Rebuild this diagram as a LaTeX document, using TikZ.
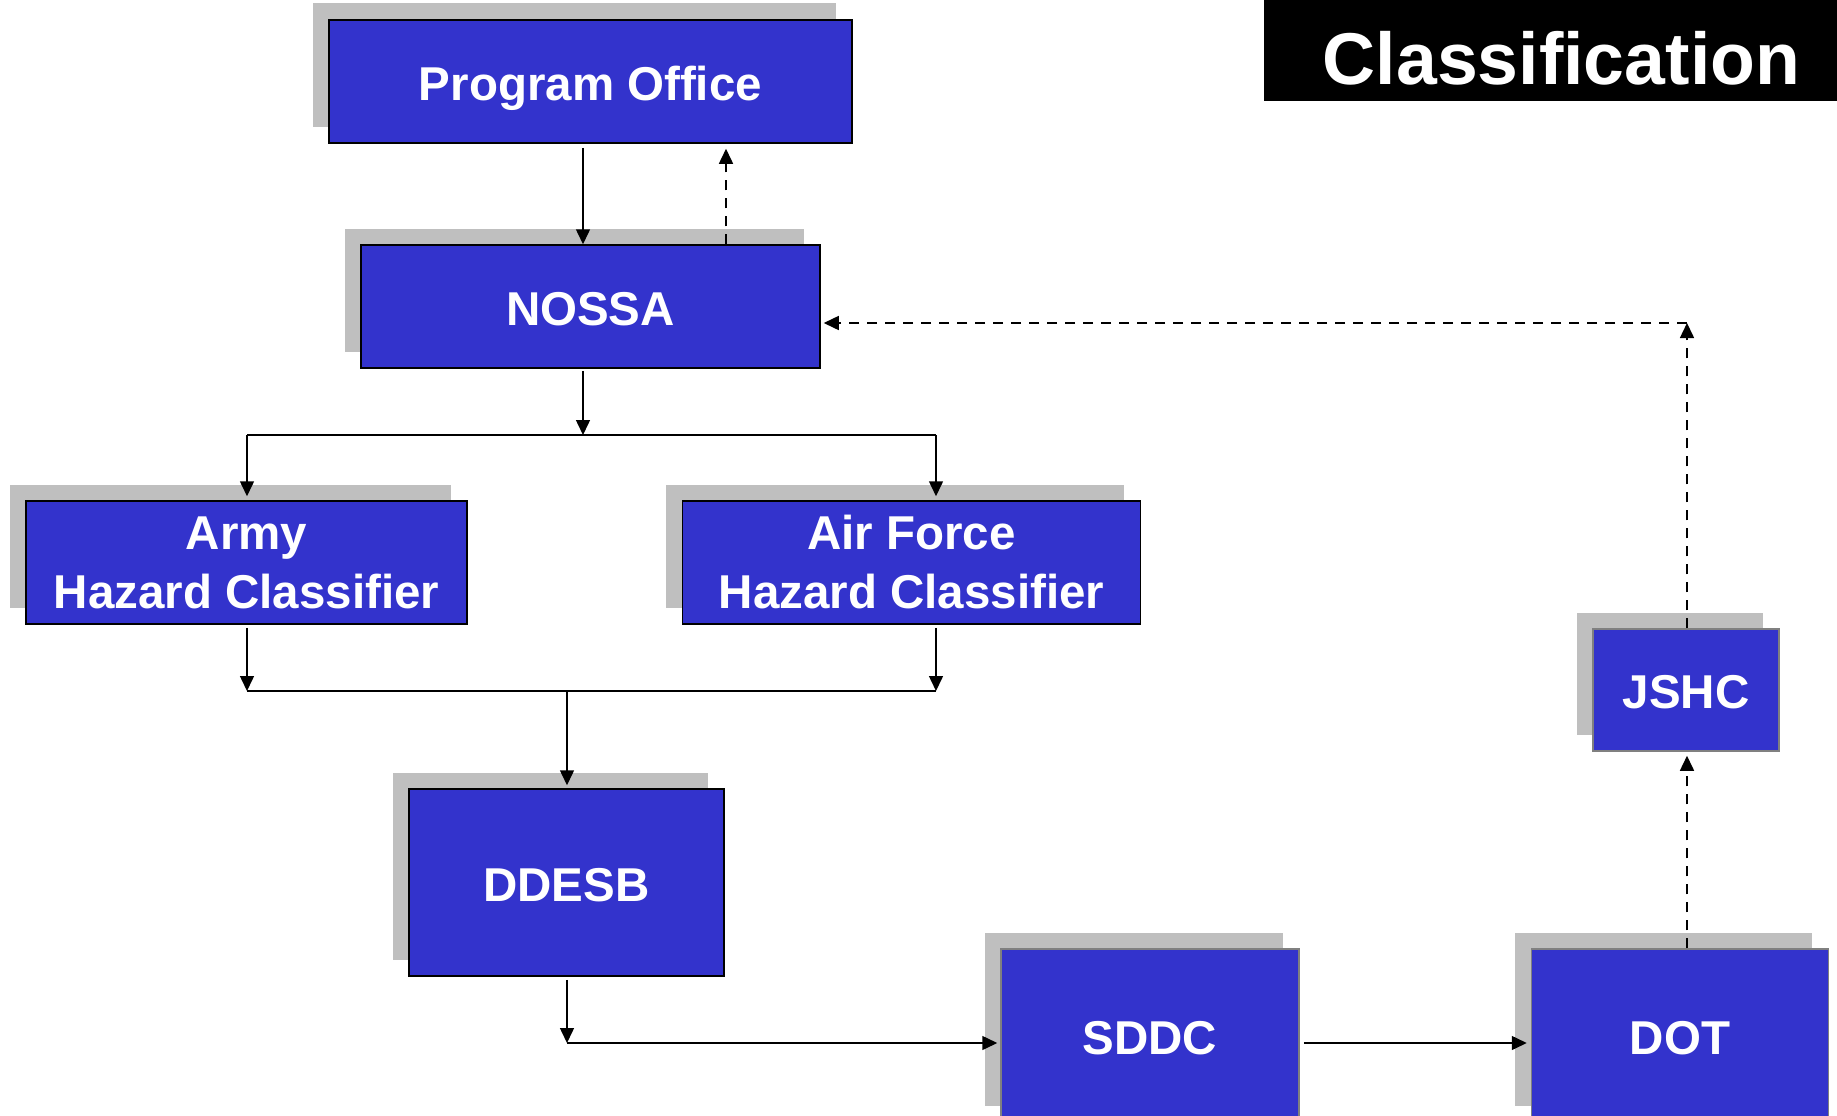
\documentclass[tikz,border=0pt]{standalone}
\usepackage{fontspec}
\setmainfont{Liberation Sans}
\usetikzlibrary{shapes,arrows.meta,positioning,shadows}
\definecolor{boxblue}{RGB}{51,51,204}

\begin{document}
\begin{tikzpicture}[x=1pt, y=-1pt, line width=1.5pt]
    \tikzstyle{box} = [rectangle, draw=black, fill=boxblue, text=white, font=\bfseries\fontsize{47.5pt}{59pt}\selectfont, align=center, inner sep=0pt, minimum height=123pt, drop shadow={shadow xshift=-16.5pt, shadow yshift=16.5pt, opacity=1, fill=black!25}]
    \tikzstyle{oneline} = [text height=37pt, text depth=0pt]
    \tikzstyle{arrow} = [-{Triangle[length=15pt, width=14pt]}, line width=1.5pt]
    \tikzstyle{dasharrow} = [arrow, dash pattern=on 10pt off 8pt]

    \useasboundingbox (0,0) rectangle (1837,1116);
    \clip (0,0) rectangle (1837,1116);

    % title
    \node [fill=black, minimum width=573pt, minimum height=101pt, inner sep=0pt] (title) at (1550.5,50.5) {};
    \node [text=white, inner sep=0pt, font=\bfseries\fontsize{73.4pt}{80pt}\selectfont] (titletext) at (1561.5,58.5) {Classification};

    % boxes
    \node [box, oneline, minimum width=523pt] (office) at (590.5,81.5) {Program Office};
    \node [box, oneline, minimum width=459pt] (nossa) at (590.5,306.5) {NOSSA};
    \node [box, minimum width=441pt] (army) at (246.5,562.5) {Army\\Hazard Classifier};
    \node [box, minimum width=458pt, right=214pt of army] (airforce) {Air Force\\Hazard Classifier};
    \node [box, oneline, minimum width=315pt, minimum height=187pt] (ddesb) at (566.5,882.5) {DDESB};
    \node [box, oneline, draw=gray, minimum width=298pt, minimum height=173pt] (sddc) at (1150,1035.5) {SDDC};
    \node [box, oneline, draw=gray, minimum width=297pt, minimum height=173pt, right=231pt of sddc] (dot) {DOT};
    \node [box, oneline, draw=gray, minimum width=186pt, minimum height=122pt] (jshc) at (1686,690) {JSHC};

    % bends of the connectors
    \coordinate (split) at (583,435);
    \coordinate (splitL) at (247,435);
    \coordinate (splitR) at (936,435);
    \coordinate (joinL) at (247,691);
    \coordinate (joinR) at (936,691);
    \coordinate (join) at (567,691);
    \coordinate (corner) at (567,1043);
    \coordinate (turn) at (1687,323);

    \draw [arrow, shorten <=4pt] ([xshift=-7.5pt]office.south) -- ([xshift=-7.5pt]nossa.north);
    \draw [dasharrow, shorten >=5pt] ([xshift=135.5pt]nossa.north) -- ([xshift=135.5pt]office.south);
    \draw [arrow, shorten <=2pt] (split |- nossa.south) -- (split);
    \draw (splitL) -- (splitR);
    \draw [arrow, shorten >=4pt] (splitL) -- (splitL |- army.north);
    \draw [arrow, shorten >=4pt] (splitR) -- (splitR |- airforce.north);
    \draw [arrow, shorten <=3pt] (joinL |- army.south) -- (joinL);
    \draw [arrow, shorten <=3pt] (joinR |- airforce.south) -- (joinR);
    \draw (joinL) -- (joinR);
    \draw [arrow, shorten >=3pt] (join) -- (join |- ddesb.north);
    \draw [arrow, shorten <=3pt] (corner |- ddesb.south) -- (corner);
    \draw [arrow, shorten >=3pt] (corner) -- (corner -| sddc.west);
    \draw [arrow, shorten <=4pt, shorten >=4pt] (corner -| sddc.east) -- (corner -| dot.west);
    \draw [dasharrow, shorten >=4pt] (turn |- dot.north) -- (turn |- jshc.south);
    \draw [dasharrow] (turn |- jshc.north) -- (turn);
    \draw [dasharrow, shorten >=3pt] (turn) -- (turn -| nossa.east);
\end{tikzpicture}
\end{document}
